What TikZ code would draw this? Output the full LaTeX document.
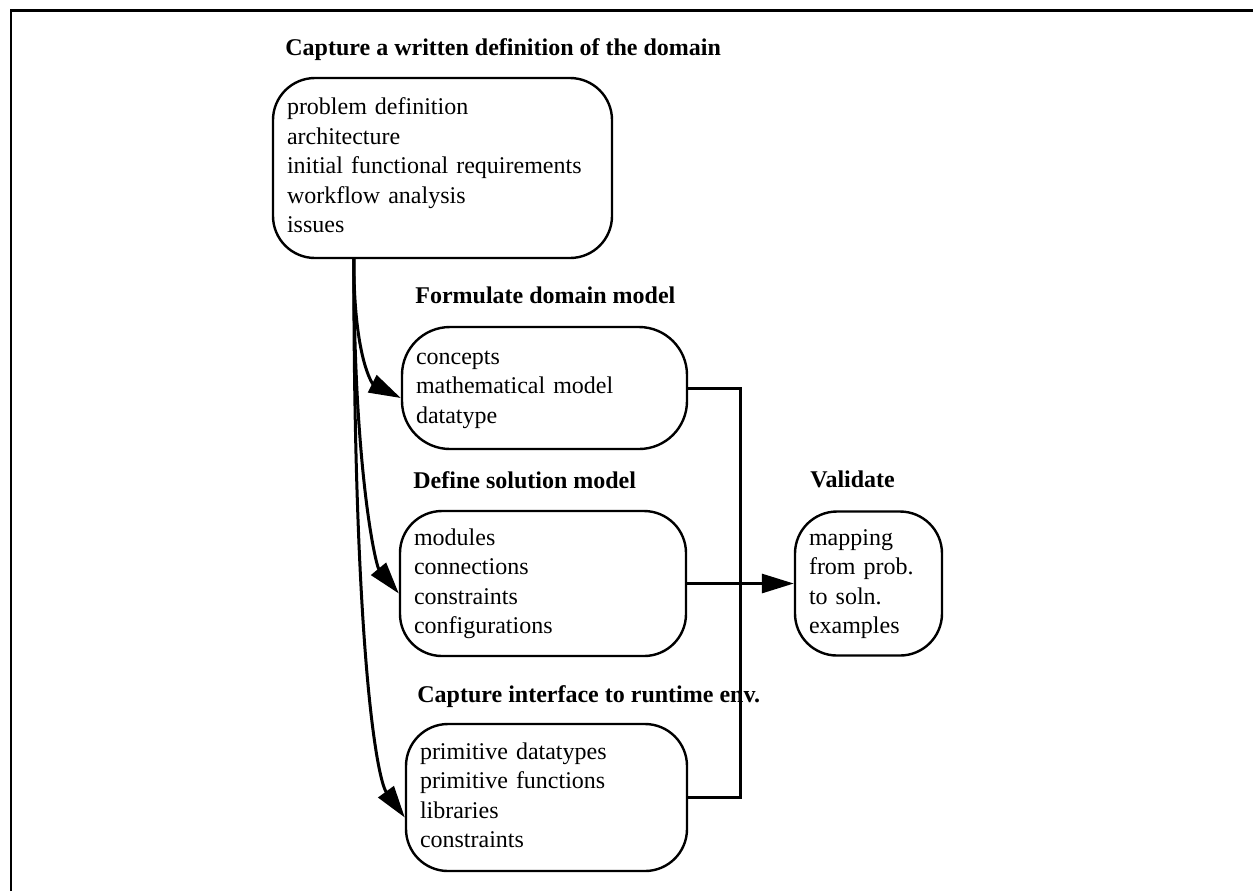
\documentclass[tikz,border=0pt]{standalone}
\usepackage{fontspec}
\setmainfont{Liberation Serif}
\usetikzlibrary{arrows.meta}

\newcommand{\bodyfont}{\fontsize{12}{14.75}\selectfont}

\tikzset{
  box/.style={draw, line width=1.2pt, rounded corners=21pt, align=left,
    inner xsep=7pt, inner ysep=0pt, font=\bodyfont},
  headline/.style={anchor=base west, inner sep=0pt, font=\bodyfont\bfseries},
  link/.style={line width=1.5pt},
  arr/.style={link, -{Triangle[length=16pt,width=9.5pt]}},
  frame/.style={line width=1.4pt}
}

\begin{document}
\begin{tikzpicture}[x=0.5pt, y=-0.5pt]
  \useasboundingbox (0,0) rectangle (1253,891);

  % open frame: top and left edges only
  \draw[frame] (11,891) -- (11,10.5) -- (1253,10.5);

  % headings
  \node[headline] (h1) at (285,55)  {Capture a written definition of the domain};
  \node[headline] (h2) at (415,303) {Formulate domain model};
  \node[headline] (h3) at (413,488) {Define solution model};
  \node[headline] (h4) at (417,702) {Capture interface to runtime env.};
  \node[headline] (h5) at (810,487) {Validate};

  % activity boxes
  \node[box, text width=155.5pt, minimum height=90pt] (b1) at (442.5,168)
    {\strut problem definition\\ \strut architecture\\ \strut initial functional requirements\\
     \strut workflow analysis\\ \strut issues};
  \node[box, text width=128.5pt, minimum height=61pt, rounded corners=24pt] (b2) at (544.5,388)
    {\strut concepts\\ \strut mathematical model\\ \strut datatype};
  \node[box, text width=129pt, minimum height=72.5pt] (b3) at (543,583.5)
    {\strut modules\\ \strut connections\\ \strut constraints\\ \strut configurations};
  \node[box, text width=126.5pt, minimum height=73.5pt] (b4) at (546.5,797.5)
    {\strut primitive datatypes\\ \strut primitive functions\\ \strut libraries\\ \strut constraints};
  \node[box, text width=59.5pt, minimum height=72pt] (val) at (868.5,583.5)
    {\strut mapping\\ \strut from prob.\\ \strut to soln.\\ \strut examples};

  % fan-out from the domain definition
  \coordinate (fork) at ([xshift=41pt]b1.south west);
  \draw[arr] (fork) .. controls +(0,100) and +(-28,-14) .. ([yshift=-5pt]b2.west);
  \draw[arr] (fork) .. controls +(0,212) and +(-23,-28) .. ([yshift=-5pt]b3.west);
  \draw[arr] (fork) .. controls +(0,402) and +(-27,-37) .. ([yshift=-10pt]b4.west);

  % collecting bus into validation
  \coordinate (bus) at (740,383);
  \draw[link] (b2.east) -- (b2.east -| bus) -- (bus |- b4.east) -- (b4.east);
  \draw[arr] (b3.east) -- (val.west);
\end{tikzpicture}
\end{document}
